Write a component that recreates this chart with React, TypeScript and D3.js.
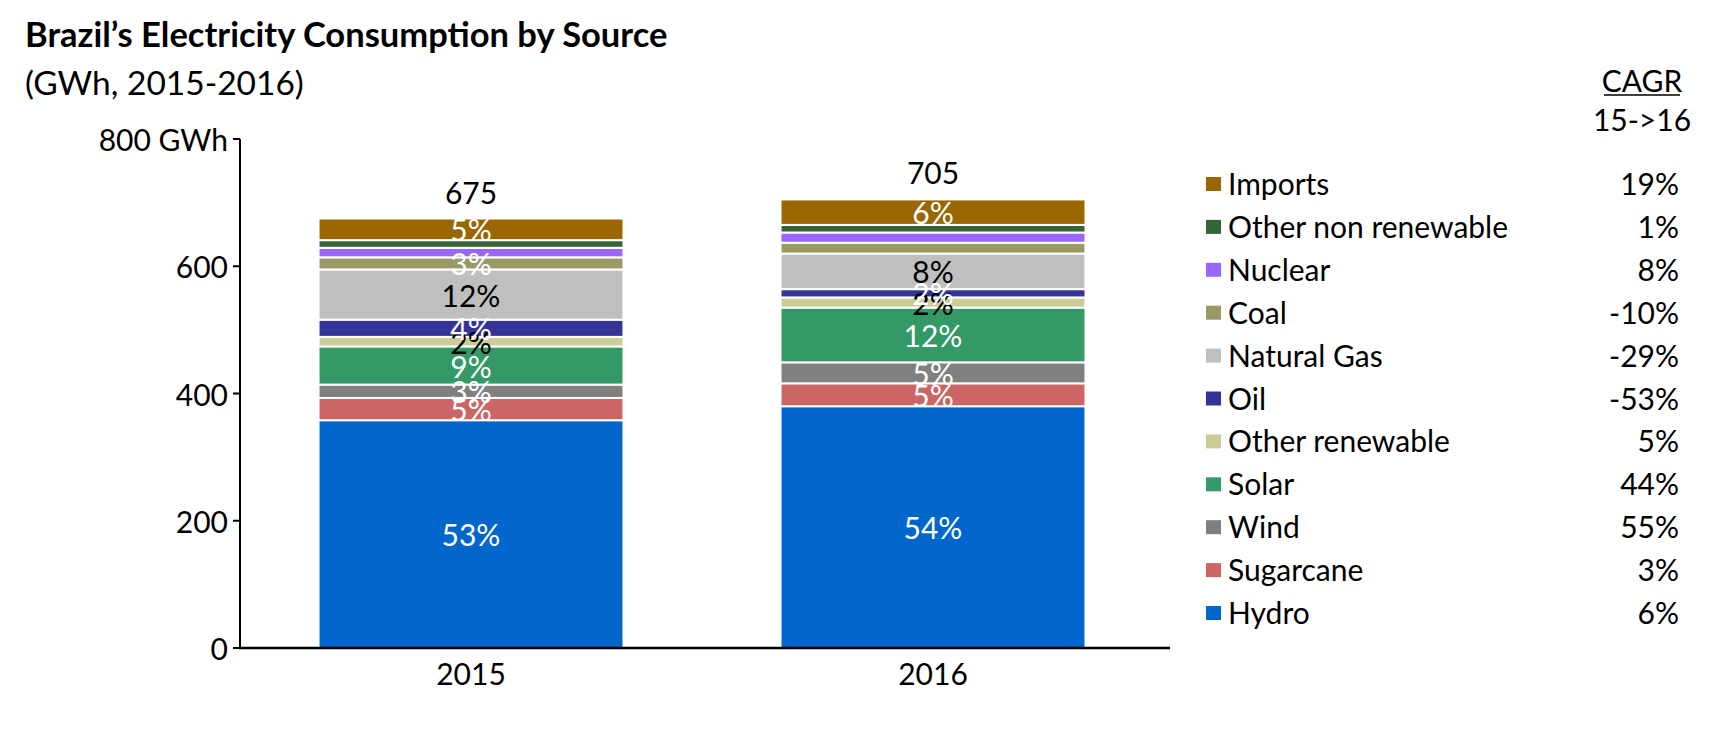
import React from 'react';
import * as d3 from 'd3';

const years = ['2015', '2016'];
const sources = [
  'Hydro',
  'Sugarcane',
  'Wind',
  'Solar',
  'Other renewable',
  'Oil',
  'Natural Gas',
  'Coal',
  'Nuclear',
  'Other non renewable',
  'Imports',
];
const values2015 = [358, 35, 21, 60, 15, 27, 79, 19, 15, 12, 34];
const values2016 = [380, 36, 33, 86, 16, 13, 56, 17, 16, 12, 40];
const totals = [675, 705];
const shareLabels2015 = ['53%', '5%', '3%', '9%', '2%', '4%', '12%', '3%', '', '', '5%'];
const shareLabels2016 = ['54%', '5%', '5%', '12%', '2%', '2%', '8%', '', '', '', '6%'];
const cagr = ['6%', '3%', '55%', '44%', '5%', '-53%', '-29%', '-10%', '8%', '1%', '19%'];
const colors = [
  '#0066CC',
  '#CC6666',
  '#808080',
  '#339966',
  '#CCCC99',
  '#333399',
  '#BFBFBF',
  '#999966',
  '#9966FF',
  '#336633',
  '#996600',
];
const darkLabelSources = ['Natural Gas', 'Other renewable'];
const yTicks = [0, 200, 400, 600, 800];

const W = 1734;
const H = 740;
const FONT = 'Lato, "Open Sans", sans-serif';
const FS = 30;

export default function App() {
  const table = years.map((year, i) => {
    const row: Record<string, any> = { year };
    const vals = i === 0 ? values2015 : values2016;
    sources.forEach((s, j) => (row[s] = vals[j]));
    return row;
  });
  const shareLabels = [shareLabels2015, shareLabels2016];

  const stack = d3.stack<Record<string, any>>().keys(sources);
  const series = stack(table);

  const y = d3.scaleLinear().domain([0, 800]).range([648, 139]);
  const x = d3
    .scaleBand()
    .domain(years)
    .range([240, 1164])
    .paddingInner(0.34)
    .paddingOuter(0.17);

  const axisX = 240;
  const legendX = 1206;
  const legendTop = 195;
  const rowGap = 42.9;
  const cagrRight = 1679;
  const legendOrder = sources.map((s, i) => i).reverse();

  return (
    <svg
      width={W}
      height={H}
      style={{ position: 'absolute', left: 0, top: 0, background: '#fff' }}
      fontFamily={FONT}
      fontSize={FS}
    >
      <text x={25} y={47} fontWeight="bold" fontSize={34.5}>
        Brazil’s Electricity Consumption by Source
      </text>
      <text x={25} y={95} fontSize={33.5}>
        (GWh, 2015-2016)
      </text>

      {/* stacked bars */}
      {series.map((s, si) => (
        <g key={s.key} fill={colors[si]}>
          {s.map((d, di) => (
            <rect
              key={di}
              x={x(years[di])}
              y={y(d[1])}
              width={x.bandwidth()}
              height={y(d[0]) - y(d[1])}
              stroke="#fff"
              strokeWidth={2}
            />
          ))}
        </g>
      ))}

      {/* share labels */}
      {series.map((s, si) =>
        s.map((d, di) => {
          const label = shareLabels[di][si];
          if (!label) return null;
          return (
            <text
              key={s.key + di}
              x={x(years[di])! + x.bandwidth() / 2}
              y={(y(d[0]) + y(d[1])) / 2}
              textAnchor="middle"
              dominantBaseline="central"
              fill={darkLabelSources.includes(s.key as string) ? '#000' : '#fff'}
            >
              {label}
            </text>
          );
        })
      )}

      {/* totals */}
      {years.map((yr, i) => (
        <text
          key={yr}
          x={x(yr)! + x.bandwidth() / 2}
          y={y(totals[i]) - 15}
          textAnchor="middle"
        >
          {totals[i]}
        </text>
      ))}

      {/* axes */}
      <line x1={axisX} x2={axisX} y1={y(800)} y2={y(0)} stroke="#000" strokeWidth={2} />
      <line x1={axisX - 1} x2={1170} y1={y(0)} y2={y(0)} stroke="#000" strokeWidth={2.5} />
      {yTicks.map((t) => (
        <g key={t}>
          <line x1={axisX - 7} x2={axisX} y1={y(t)} y2={y(t)} stroke="#000" strokeWidth={2} />
          <text x={axisX - 12} y={y(t)} textAnchor="end" dominantBaseline="central">
            {t === 800 ? '800 GWh' : t}
          </text>
        </g>
      ))}
      {years.map((yr) => (
        <text key={yr} x={x(yr)! + x.bandwidth() / 2} y={685} textAnchor="middle">
          {yr}
        </text>
      ))}

      {/* legend with CAGR */}
      <text x={1642} y={92} textAnchor="middle">
        CAGR
      </text>
      <line x1={1604} x2={1680} y1={95} y2={95} stroke="#000" strokeWidth={1.5} />
      <text x={1642} y={131} textAnchor="middle">
        15-&gt;16
      </text>
      {legendOrder.map((idx, row) => {
        const by = legendTop + row * rowGap;
        return (
          <g key={sources[idx]}>
            <rect x={legendX} y={by - 18} width={15} height={14} fill={colors[idx]} />
            <text x={legendX + 22} y={by}>
              {sources[idx]}
            </text>
            <text x={cagrRight} y={by} textAnchor="end">
              {cagr[idx]}
            </text>
          </g>
        );
      })}
    </svg>
  );
}
